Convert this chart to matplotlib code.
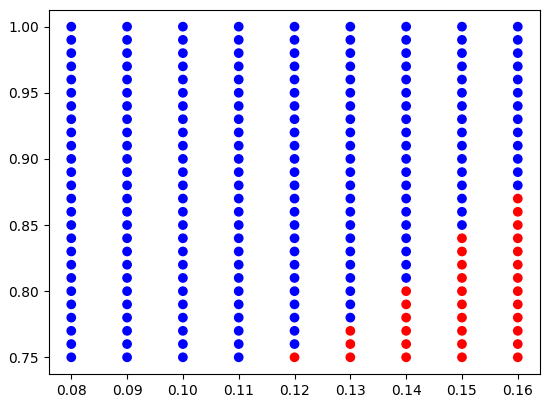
import matplotlib
matplotlib.use("Agg")
import matplotlib.pyplot as plt

x_values = [0.08, 0.09, 0.10, 0.11, 0.12, 0.13, 0.14, 0.15, 0.16]
y_values = [0.75, 0.76, 0.77, 0.78, 0.79, 0.80, 0.81, 0.82, 0.83, 0.84,
            0.85, 0.86, 0.87, 0.88, 0.89, 0.90, 0.91, 0.92, 0.93, 0.94,
            0.95, 0.96, 0.97, 0.98, 0.99, 1.00]
# number of red (lowest) points in each column
red_counts = [0, 0, 0, 0, 1, 3, 6, 10, 13]
y_ticks = [0.75, 0.80, 0.85, 0.90, 0.95, 1.00]

fig = plt.figure(figsize=(5.5, 4.05), dpi=100)
ax = fig.add_axes([0.089, 0.077, 0.893, 0.898])

xs, ys, cs = [], [], []
for xv, rc in zip(x_values, red_counts):
    for j, yv in enumerate(y_values):
        xs.append(xv)
        ys.append(yv)
        cs.append('red' if j < rc else 'blue')

ax.scatter(xs, ys, c=cs)
ax.set_xticks(x_values)
ax.set_xticklabels([f"{v:.2f}" for v in x_values])
ax.set_yticks(y_ticks)
ax.set_yticklabels([f"{v:.2f}" for v in y_ticks])

fig.savefig("out.png", dpi=100)
